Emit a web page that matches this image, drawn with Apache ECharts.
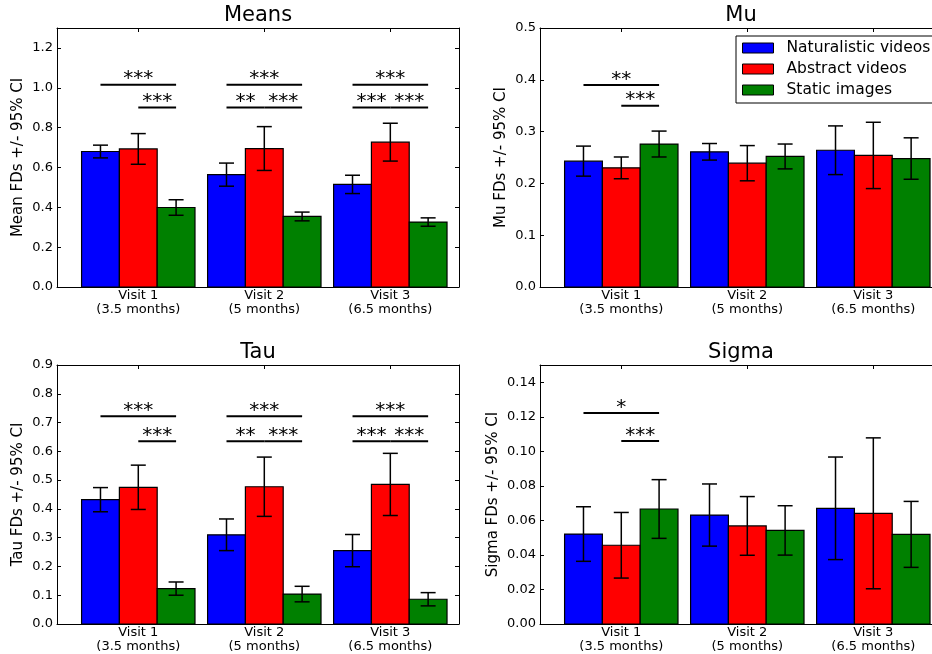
<!DOCTYPE html>
<html>
<head>
<meta charset="utf-8">
<title>Fixation durations by visit and condition</title>
<script src="https://cdn.jsdelivr.net/npm/echarts@6/dist/echarts.min.js"></script>
<style>
  html, body { margin: 0; padding: 0; background: #ffffff; }
  #chart { width: 932px; height: 654px; }
</style>
</head>
<body>
<div id="chart"></div>
<script>
// Categories
const visitLabels = ['Visit 1\n(3.5 months)', 'Visit 2\n(5 months)', 'Visit 3\n(6.5 months)'];
const conditions = ['Naturalistic videos', 'Abstract videos', 'Static images'];
const conditionColors = ['#0000ff', '#ff0000', '#008000'];

// Estimates per condition (rows) and visit (columns), with 95% CI half-widths
const meansValues = [[0.680, 0.564, 0.515], [0.693, 0.695, 0.727], [0.399, 0.354, 0.326]];
const meansCI     = [[0.032, 0.058, 0.046], [0.077, 0.110, 0.095], [0.039, 0.022, 0.021]];
const muValues    = [[0.243, 0.261, 0.264], [0.230, 0.239, 0.254], [0.276, 0.252, 0.248]];
const muCI        = [[0.029, 0.016, 0.047], [0.021, 0.034, 0.064], [0.025, 0.024, 0.040]];
const tauValues   = [[0.432, 0.310, 0.255], [0.475, 0.477, 0.485], [0.123, 0.104, 0.086]];
const tauCI       = [[0.042, 0.055, 0.056], [0.077, 0.103, 0.108], [0.023, 0.027, 0.023]];
const sigmaValues = [[0.0521, 0.0631, 0.0670], [0.0456, 0.0568, 0.0641], [0.0666, 0.0542, 0.0519]];
const sigmaCI     = [[0.0158, 0.0180, 0.0297], [0.0190, 0.0170, 0.0437], [0.0170, 0.0143, 0.0191]];

// Tick values
const meansTicks = [0, 0.2, 0.4, 0.6, 0.8, 1.0, 1.2];
const muTicks    = [0, 0.1, 0.2, 0.3, 0.4, 0.5];
const tauTicks   = [0, 0.1, 0.2, 0.3, 0.4, 0.5, 0.6, 0.7, 0.8, 0.9];
const sigmaTicks = [0, 0.02, 0.04, 0.06, 0.08, 0.10, 0.12, 0.14];
const visitTicks = [0, 1, 2];

// Pairwise comparisons: [visit, condition A, condition B, stars, tier]
const meansSig = [
  [0, 0, 2, '***', 1], [0, 1, 2, '***', 0],
  [1, 0, 2, '***', 1], [1, 0, 1, '**', 0], [1, 1, 2, '***', 0],
  [2, 0, 2, '***', 1], [2, 0, 1, '***', 0], [2, 1, 2, '***', 0]
];
const muSig = [[0, 0, 2, '**', 1], [0, 1, 2, '***', 0]];
const tauSig = [
  [0, 0, 2, '***', 1], [0, 1, 2, '***', 0],
  [1, 0, 2, '***', 1], [1, 0, 1, '**', 0], [1, 1, 2, '***', 0],
  [2, 0, 2, '***', 1], [2, 0, 1, '***', 0], [2, 1, 2, '***', 0]
];
const sigmaSig = [[0, 0, 2, '*', 1], [0, 1, 2, '***', 0]];

// Layout of the four panels (right-hand panels run past the canvas edge)
const FONT = 'DejaVu Sans';
const BAR_W = 0.3;
const X_MIN = -0.645, X_MAX = 2.545;
const GRID_W = 402, GRID_H = 259;
const panels = [
  { title: 'Means', yName: 'Mean FDs +/- 95% CI', values: meansValues, ci: meansCI, ticks: meansTicks,
    yMax: 1.3, decimals: 1, sig: meansSig, tiers: [0.901, 1.015], left: 57, top: 28, nameGap: 31 },
  { title: 'Mu', yName: 'Mu FDs +/- 95% CI', values: muValues, ci: muCI, ticks: muTicks,
    yMax: 0.5, decimals: 1, sig: muSig, tiers: [0.350, 0.390], left: 540, top: 28, nameGap: 31 },
  { title: 'Tau', yName: 'Tau FDs +/- 95% CI', values: tauValues, ci: tauCI, ticks: tauTicks,
    yMax: 0.9, decimals: 1, sig: tauSig, tiers: [0.635, 0.722], left: 57, top: 365, nameGap: 31 },
  { title: 'Sigma', yName: 'Sigma FDs +/- 95% CI', values: sigmaValues, ci: sigmaCI, ticks: sigmaTicks,
    yMax: 0.15, decimals: 2, sig: sigmaSig, tiers: [0.106, 0.1222], left: 540, top: 365, nameGap: 39 }
];

const grid = [], xAxis = [], yAxis = [], series = [], graphic = [];
const axisLineStyle = { color: '#000', width: 1 };

panels.forEach((p, pi) => {
  grid.push({ left: p.left, top: p.top, width: GRID_W, height: GRID_H,
              containLabel: false, outerBoundsMode: 'none' });

  // bottom and top x axes
  ['bottom', 'top'].forEach(pos => {
    xAxis.push({
      type: 'value', gridIndex: pi, position: pos, min: X_MIN, max: X_MAX,
      axisLine: { show: true, onZero: false, lineStyle: axisLineStyle },
      axisTick: { show: true, inside: true, length: 4, customValues: visitTicks, lineStyle: axisLineStyle },
      axisLabel: {
        show: pos === 'bottom', customValues: visitTicks, margin: 2,
        formatter: v => visitLabels[Math.round(v)],
        color: '#000', fontFamily: FONT, fontSize: 13, lineHeight: 14
      },
      splitLine: { show: false }
    });
  });

  // left and right y axes
  ['left', 'right'].forEach(pos => {
    yAxis.push({
      type: 'value', gridIndex: pi, position: pos, min: 0, max: p.yMax,
      name: pos === 'left' ? p.yName : '', nameLocation: 'middle', nameGap: p.nameGap,
      nameTextStyle: { color: '#000', fontFamily: FONT, fontSize: 15 },
      axisLine: { show: true, onZero: false, lineStyle: axisLineStyle },
      axisTick: { show: true, inside: true, length: 4, customValues: p.ticks, lineStyle: axisLineStyle },
      axisLabel: {
        show: pos === 'left', customValues: p.ticks, margin: 4,
        formatter: v => v.toFixed(p.decimals),
        color: '#000', fontFamily: FONT, fontSize: 13
      },
      splitLine: { show: false }
    });
  });

  // bars with error bars, one series per condition
  conditions.forEach((name, ci) => {
    const color = conditionColors[ci];
    series.push({
      type: 'custom', name: name, xAxisIndex: pi * 2, yAxisIndex: pi * 2,
      itemStyle: { color: color, borderColor: '#000', borderWidth: 1 },
      encode: { x: 0, y: 1 },
      data: p.values[ci].map((v, vi) => [vi, v, p.ci[ci][vi]]),
      renderItem: (params, api) => {
        const visit = api.value(0), mean = api.value(1), half = api.value(2);
        const cx = visit + (ci - 1) * BAR_W;
        const tl = api.coord([cx - BAR_W / 2, mean]);
        const br = api.coord([cx + BAR_W / 2, 0]);
        const hi = api.coord([cx, mean + half]);
        const lo = api.coord([cx, mean - half]);
        const capHalf = 7.5;
        const lineStyle = { stroke: '#000', lineWidth: 1.5 };
        return {
          type: 'group',
          children: [
            { type: 'rect', shape: { x: tl[0], y: tl[1], width: br[0] - tl[0], height: br[1] - tl[1] },
              style: { fill: color, stroke: '#000', lineWidth: 1.2 } },
            { type: 'line', shape: { x1: hi[0], y1: hi[1], x2: lo[0], y2: lo[1] }, style: lineStyle },
            { type: 'line', shape: { x1: hi[0] - capHalf, y1: hi[1], x2: hi[0] + capHalf, y2: hi[1] }, style: lineStyle },
            { type: 'line', shape: { x1: lo[0] - capHalf, y1: lo[1], x2: lo[0] + capHalf, y2: lo[1] }, style: lineStyle }
          ]
        };
      }
    });
  });

  // significance brackets
  series.push({
    type: 'custom', name: 'significance', xAxisIndex: pi * 2, yAxisIndex: pi * 2,
    clip: false, silent: true,
    data: p.sig.map(s => [s[0] + (s[1] - 1) * BAR_W, s[0] + (s[2] - 1) * BAR_W, p.tiers[s[4]]]),
    renderItem: (params, api) => {
      const stars = p.sig[params.dataIndex][3];
      const a = api.coord([api.value(0), api.value(2)]);
      const b = api.coord([api.value(1), api.value(2)]);
      return {
        type: 'group',
        children: [
          { type: 'line', shape: { x1: a[0], y1: a[1], x2: b[0], y2: b[1] },
            style: { stroke: '#000', lineWidth: 2 } },
          { type: 'text', x: (a[0] + b[0]) / 2, y: a[1] + 4.5,
            style: { text: stars, fill: '#000', font: '20px "' + FONT + '"',
                     textAlign: 'center', textVerticalAlign: 'bottom' } }
        ]
      };
    }
  });

  // panel title
  graphic.push({
    type: 'text', x: p.left + GRID_W / 2, y: p.top - 12,
    style: { text: p.title, fill: '#000', font: '21px "' + FONT + '"',
             textAlign: 'center', textVerticalAlign: 'middle' }
  });
});

// legend frame, running past the right edge of the canvas
graphic.push({
  type: 'rect', z: 3, shape: { x: 736, y: 36, width: 230, height: 67 },
  style: { fill: '#ffffff', stroke: '#000', lineWidth: 1 }
});

const chart = echarts.init(document.getElementById('chart'), null, { renderer: 'canvas' });
chart.setOption({
  backgroundColor: '#ffffff',
  animation: false,
  textStyle: { fontFamily: FONT },
  grid: grid,
  xAxis: xAxis,
  yAxis: yAxis,
  legend: {
    data: conditions,
    orient: 'vertical',
    left: 736, top: 36, z: 5,
    icon: 'rect',
    itemWidth: 31, itemHeight: 10, itemGap: 5,
    padding: [4, 0, 5, 6],
    borderWidth: 0,
    itemStyle: { borderColor: '#000', borderWidth: 1 },
    textStyle: { color: '#000', fontFamily: FONT, fontSize: 15.5, lineHeight: 16, padding: [0, 0, 0, 8] },
    selectedMode: false
  },
  graphic: graphic,
  series: series
});
</script>
</body>
</html>
